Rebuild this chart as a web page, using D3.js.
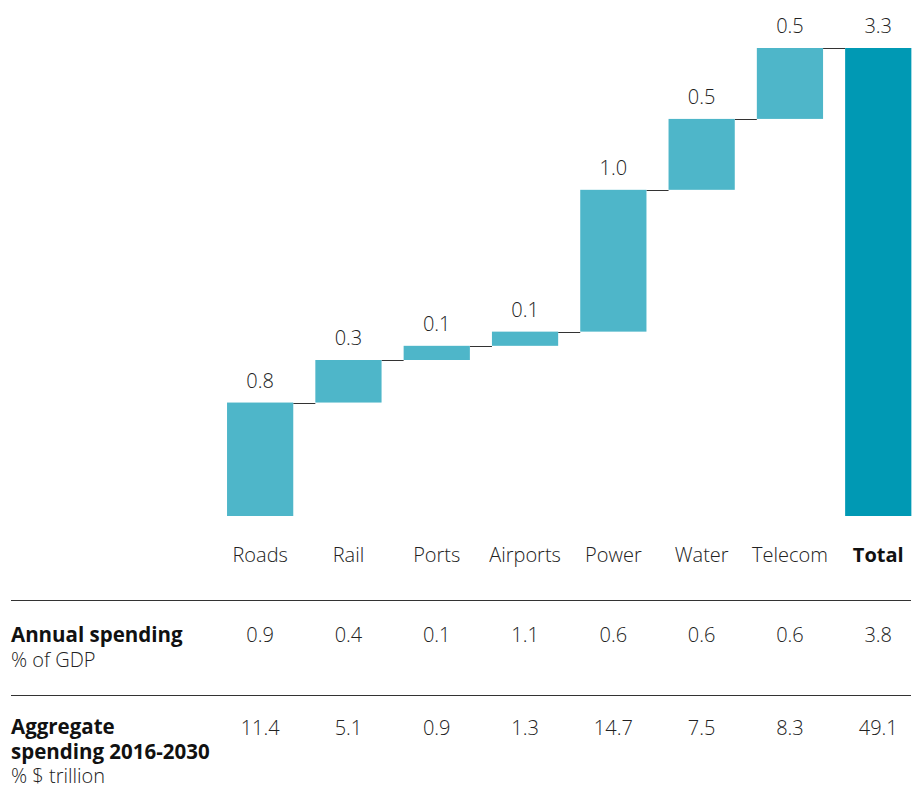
<!DOCTYPE html>
<html>
<head>
<meta charset="utf-8">
<script src="https://cdn.jsdelivr.net/npm/d3@7"></script>
<style>
  html, body { margin: 0; padding: 0; background: #fff; }
  svg { display: block; font-family: "Open Sans", "Noto Sans", sans-serif; }
</style>
</head>
<body>
<svg id="chart" width="917" height="790"></svg>
<script>
// Infrastructure investment needs by sector (waterfall) with summary table
const categories = ["Roads", "Rail", "Ports", "Airports", "Power", "Water", "Telecom", "Total"];
const increments = [0.8, 0.3, 0.1, 0.1, 1.0, 0.5, 0.5];
const totalValue = 3.3;
const annualSpending = ["0.9", "0.4", "0.1", "1.1", "0.6", "0.6", "0.6", "3.8"];
const aggregateSpending = ["11.4", "5.1", "0.9", "1.3", "14.7", "7.5", "8.3", "49.1"];

const svg = d3.select("#chart");
const textColor = "#222";
const barColor = "#4eb6c9";
const totalColor = "#0099b4";
const lightSize = 20;
const boldSize = 20.5;

const x = d3.scaleBand()
  .domain(categories)
  .range([216, 922.4])
  .paddingInner(0.25)
  .paddingOuter(0.125);

const y = d3.scaleLinear().domain([0, 3.3]).range([516, 48]);

// Running start/end for each step
let acc = 0;
const steps = increments.map((v, i) => {
  const s = { cat: categories[i], start: acc, end: acc + v, value: v, total: false };
  acc += v;
  return s;
});
steps.push({ cat: "Total", start: 0, end: totalValue, value: totalValue, total: true });

// Connector lines between consecutive bars
svg.append("g").selectAll("line")
  .data(steps.slice(0, -1))
  .join("line")
  .attr("x1", d => x(d.cat) + x.bandwidth())
  .attr("x2", (d, i) => x(steps[i + 1].cat))
  .attr("y1", d => Math.round(y(d.end)) + 0.5)
  .attr("y2", d => Math.round(y(d.end)) + 0.5)
  .attr("stroke", "#333")
  .attr("stroke-width", 1);

// Bars
svg.append("g").selectAll("rect")
  .data(steps)
  .join("rect")
  .attr("x", d => x(d.cat))
  .attr("width", x.bandwidth())
  .attr("y", d => y(d.end))
  .attr("height", d => y(d.start) - y(d.end))
  .attr("fill", d => d.total ? totalColor : barColor);

// Value labels above bars
svg.append("g").selectAll("text")
  .data(steps)
  .join("text")
  .attr("x", d => x(d.cat) + x.bandwidth() / 2)
  .attr("y", d => y(d.end) - 15)
  .attr("text-anchor", "middle")
  .attr("font-size", lightSize)
  .attr("font-weight", 300)
  .attr("fill", textColor)
  .text(d => d.value.toFixed(1));

// Category labels
svg.append("g").selectAll("text")
  .data(categories)
  .join("text")
  .attr("x", d => x(d) + x.bandwidth() / 2)
  .attr("y", 562)
  .attr("text-anchor", "middle")
  .attr("font-size", d => d === "Total" ? boldSize - 0.5 : lightSize)
  .attr("font-weight", d => d === "Total" ? 700 : 300)
  .attr("fill", d => d === "Total" ? "#111" : textColor)
  .text(d => d);

// Table separators
[600.5, 695.5].forEach(yy => {
  svg.append("line")
    .attr("x1", 11).attr("x2", 911)
    .attr("y1", yy).attr("y2", yy)
    .attr("stroke", "#333").attr("stroke-width", 1);
});

// Row headers
const rowHead = svg.append("g").attr("fill", "#111");
rowHead.append("text").attr("x", 11).attr("y", 642)
  .attr("font-size", boldSize).attr("font-weight", 700).text("Annual spending");
rowHead.append("text").attr("x", 11).attr("y", 667)
  .attr("font-size", lightSize).attr("font-weight", 300).attr("fill", textColor).text("% of GDP");
rowHead.append("text").attr("x", 11).attr("y", 734)
  .attr("font-size", boldSize).attr("font-weight", 700).text("Aggregate");
rowHead.append("text").attr("x", 11).attr("y", 759)
  .attr("font-size", boldSize).attr("font-weight", 700).text("spending 2016-2030");
rowHead.append("text").attr("x", 11).attr("y", 783)
  .attr("font-size", lightSize).attr("font-weight", 300).attr("fill", textColor).text("% $ trillion");

// Table values
function row(values, yy) {
  svg.append("g").selectAll("text")
    .data(values)
    .join("text")
    .attr("x", (d, i) => x(categories[i]) + x.bandwidth() / 2)
    .attr("y", yy)
    .attr("text-anchor", "middle")
    .attr("font-size", lightSize)
    .attr("font-weight", 300)
    .attr("fill", textColor)
    .text(d => d);
}
row(annualSpending, 642);
row(aggregateSpending, 735);
</script>
</body>
</html>
